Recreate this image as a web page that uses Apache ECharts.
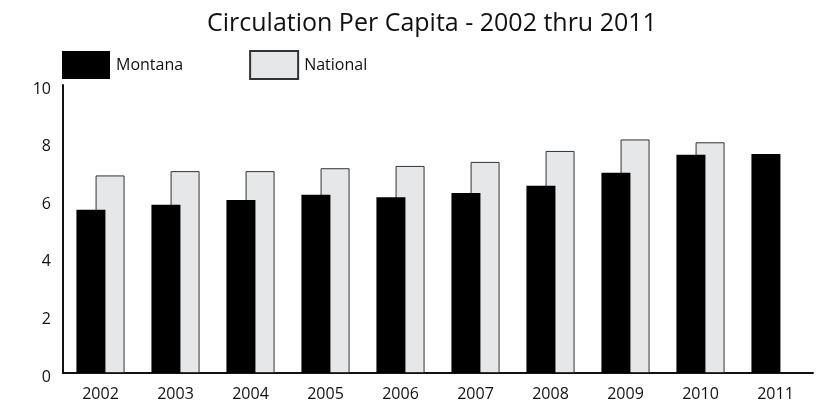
<!DOCTYPE html>
<html>
<head>
<meta charset="utf-8">
<title>Circulation Per Capita</title>
<script src="https://cdn.jsdelivr.net/npm/echarts@6/dist/echarts.min.js"></script>
<style>
  html, body { margin: 0; padding: 0; background: #fff; }
  #main { width: 830px; height: 407px; }
</style>
</head>
<body>
<div id="main"></div>
<script>
// data
var years = ['2002', '2003', '2004', '2005', '2006', '2007', '2008', '2009', '2010', '2011'];
var montana = [5.67, 5.84, 6.01, 6.19, 6.10, 6.25, 6.50, 6.95, 7.58, 7.60];
var national = [6.86, 7.01, 7.01, 7.11, 7.19, 7.33, 7.71, 8.11, 8.01, null];
var yTicks = [0, 2, 4, 6, 8, 10];

var font = '"Open Sans", "DejaVu Sans", sans-serif';
var ink = '#111111';

var chart = echarts.init(document.getElementById('main'));
chart.setOption({
  animation: false,
  title: {
    text: 'Circulation Per Capita - 2002 thru 2011',
    left: 207,
    top: 11,
    padding: 0,
    textStyle: { fontFamily: font, fontSize: 25, fontWeight: 'normal', color: ink }
  },
  legend: {
    left: 62,
    top: 50,
    padding: 0,
    itemWidth: 48,
    itemHeight: 28,
    itemGap: 66,
    icon: 'rect',
    textStyle: { fontFamily: font, fontSize: 16, color: ink, padding: [4, 0, 0, 1] },
    data: ['Montana', 'National']
  },
  grid: { left: 63, right: 17, top: 85, bottom: 34 },
  xAxis: {
    type: 'category',
    data: years,
    axisLine: { lineStyle: { color: ink, width: 2 } },
    axisTick: { show: false },
    axisLabel: { fontFamily: font, fontSize: 16, color: ink, margin: 13 }
  },
  yAxis: {
    type: 'value',
    min: yTicks[0],
    max: yTicks[yTicks.length - 1],
    interval: yTicks[1] - yTicks[0],
    axisLine: { show: true, lineStyle: { color: ink, width: 2 } },
    axisTick: { show: false },
    splitLine: { show: false },
    axisLabel: {
      fontFamily: font, fontSize: 16, color: ink, margin: 12,
      verticalAlign: 'top', lineHeight: 8
    }
  },
  series: [
    {
      name: 'Montana',
      type: 'bar',
      data: montana,
      barWidth: 29,
      barGap: '-34%',
      z: 3,
      itemStyle: { color: '#000000' }
    },
    {
      name: 'National',
      type: 'bar',
      data: national,
      barWidth: 29,
      z: 2,
      itemStyle: { color: '#e6e7e8', borderColor: '#333333', borderWidth: 1 }
    }
  ]
});
</script>
</body>
</html>
